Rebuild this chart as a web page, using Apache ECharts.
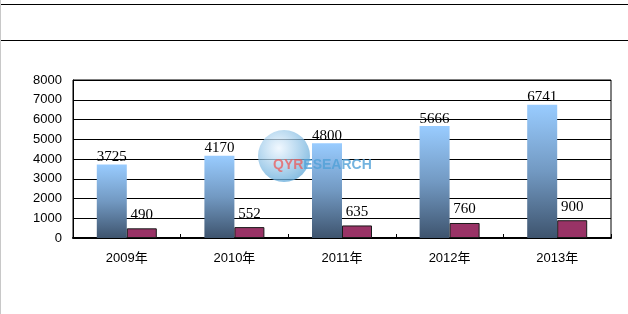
<!DOCTYPE html>
<html><head><meta charset="utf-8">
<script src="https://cdn.jsdelivr.net/npm/echarts@6/dist/echarts.min.js"></script>
<style>html,body{margin:0;padding:0;background:#fff;}#c{width:628px;height:314px;}</style>
</head><body><div id="c"></div>
<script>
var categories = ['2009年','2010年','2011年','2012年','2013年'];
var seriesA = [3725, 4170, 4800, 5666, 6741];
var seriesB = [490, 552, 635, 760, 900];
var yTicks = [0, 1000, 2000, 3000, 4000, 5000, 6000, 7000, 8000];

var chart = echarts.init(document.getElementById('c'), null, {renderer:'canvas'});
var font = '"Liberation Sans","Noto Sans CJK SC",sans-serif';
var serif = '"Liberation Serif","Noto Sans CJK SC",serif';
chart.setOption({
  animation: false,
  backgroundColor: '#fff',
  grid: {left: 73, right: 17, top: 80, bottom: 76, show: true, borderColor: '#000', borderWidth: 1},
  xAxis: {
    type: 'category', data: categories,
    axisLine: {lineStyle: {color: '#000', width: 2}},
    axisTick: {show: true, inside: true, length: 4, lineStyle: {color: '#000'}},
    axisLabel: {color: '#000', fontSize: 13, fontFamily: font, margin: 14}
  },
  yAxis: {
    type: 'value', min: yTicks[0], max: yTicks[yTicks.length-1], interval: 1000,
    axisLine: {show: true, lineStyle: {color: '#000'}},
    axisTick: {show: false},
    splitLine: {lineStyle: {color: '#000', width: 1}},
    axisLabel: {color: '#000', fontSize: 13, fontFamily: font, margin: 11,
      formatter: function(v){ return String(v); }}
  },
  series: [
    {type: 'bar', data: seriesA, barWidth: 30, barGap: '0%',
     itemStyle: {color: new echarts.graphic.LinearGradient(0,0,0,1,[
       {offset:0, color:'#99CCFF'},{offset:0.5,color:'#7299C2'},{offset:1,color:'#3E546E'}])},
     label: {show: true, position: 'top', distance: 0, color: '#000', fontSize: 15, fontFamily: serif}},
    {type: 'bar', data: seriesB, barWidth: 30,
     itemStyle: {color: '#993366', borderColor: '#1a1a1a', borderWidth: 1},
     label: {show: true, position: 'top', distance: 6, color: '#000', fontSize: 15, fontFamily: serif}}
  ],
  graphic: [
    {type: 'line', shape: {x1: 0, y1: 4.5, x2: 628, y2: 4.5}, style: {stroke: '#000', lineWidth: 1}},
    {type: 'line', shape: {x1: 0, y1: 40.5, x2: 628, y2: 40.5}, style: {stroke: '#000', lineWidth: 1}},
    {type: 'line', shape: {x1: 0.5, y1: 0, x2: 0.5, y2: 314}, style: {stroke: '#c8c8c8', lineWidth: 1}},
    {type: 'circle', shape: {cx: 284, cy: 156, r: 26}, z: 10,
     style: {fill: new echarts.graphic.RadialGradient(0.4,0.35,0.7,[
       {offset:0,color:'rgba(235,245,255,0.7)'},{offset:1,color:'rgba(90,165,215,0.75)'}])}},
    {type: 'text', left: 273, top: 158, z: 11,
     style: {text: '{r|QYR}{b|ESEARCH}', rich: {
       r: {fill: 'rgba(235,90,90,0.75)', fontSize: 14, fontWeight: 'bold', fontFamily: font},
       b: {fill: 'rgba(80,160,215,0.8)', fontSize: 14, fontWeight: 'bold', fontFamily: font}}}}
  ]
});
</script></body></html>
